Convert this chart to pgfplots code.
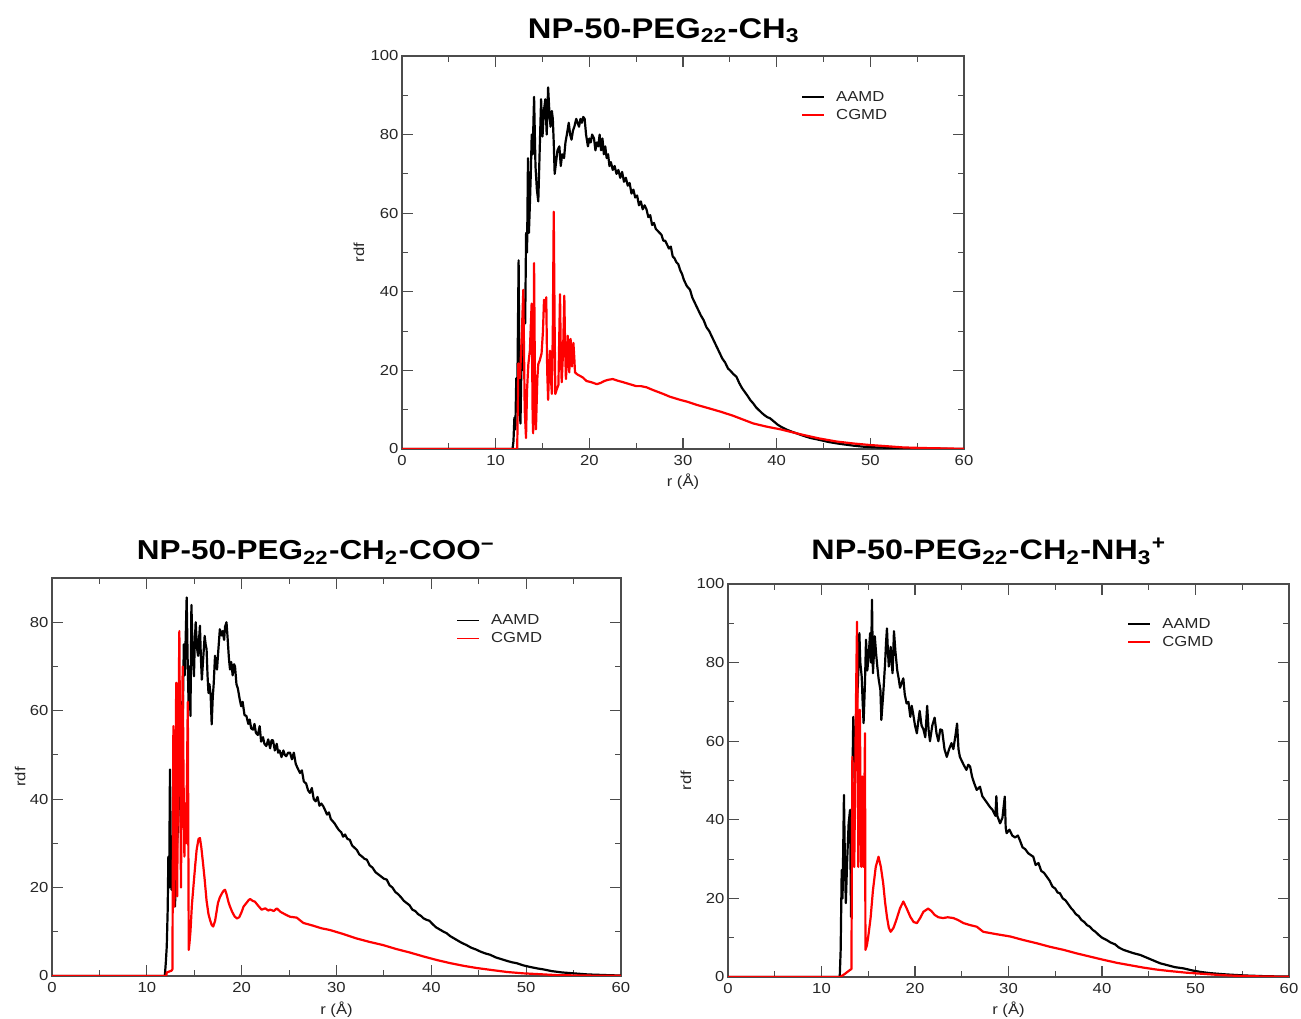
\documentclass[border=0pt]{standalone}
\usepackage{pgfplots}
\usepackage{pgfplotstable}
\pgfplotsset{compat=1.18}
\usepackage{fontspec}
\setmainfont{Liberation Sans}[FakeStretch=1.15]
\newfontfamily\titlefont{Liberation Sans}[FakeStretch=1.15]

\pgfplotstableread{
r g
0 0
11.8 0
11.9 2
12.0 8
12.1 5
12.2 18
12.3 12
12.45 48
12.55 10
12.65 6.5
12.75 22
12.85 28
12.95 20
13.05 38
13.15 32
13.25 55
13.35 50
13.45 74
13.55 55
13.65 62
13.75 70
13.85 80
13.95 75
14.1 89.6
14.25 72
14.4 66
14.55 63
14.7 76
14.85 89
15.0 79.5
15.15 86
15.3 89
15.45 80
15.6 92
15.75 85
15.86 82
16.0 86
16.1 84
16.2 78
16.3 70
16.45 73
16.6 76
16.8 77
16.95 72
17.1 75
17.3 74
17.45 78
17.6 80
17.8 83
17.95 80
18.1 78.7
18.25 81
18.4 82
18.6 84
18.75 83
18.9 82
19.05 84
19.2 83
19.35 84.5
19.5 84
19.65 80
19.85 77
20.0 79
20.15 78
20.3 80
20.5 79
20.65 76
20.8 78
20.95 77
21.1 80
21.25 76
21.4 79
21.55 75
21.7 77
21.85 74
22.0 75
22.15 72
22.3 73
22.5 71
22.7 72
22.9 70
23.1 71
23.3 69
23.5 70.5
23.7 68
23.9 69
24.1 67
24.3 67.7
24.5 65
24.7 66
24.9 64
25.1 64.5
25.3 62
25.5 63
25.7 61
25.9 62
26.1 61
26.3 59
26.5 59.5
26.7 57
26.9 57.5
27.1 56
27.3 55.5
27.5 55
27.7 54.5
27.9 53
28.1 53
28.3 52
28.5 51
28.7 51.5
28.9 49
29.1 48.5
29.3 47.5
29.5 47
29.7 45.5
29.9 44.5
30.1 43
30.4 41.5
30.75 40.5
31.0 38.5
31.3 37
31.6 35.5
31.9 34
32.2 32.8
32.5 31
32.8 30
33.1 28.5
33.4 27
33.6 26
33.9 24.5
34.2 23
34.5 22
34.8 20.5
35.1 19.8
35.4 19
35.7 18.4
36.0 16.8
36.3 15.5
36.6 14.5
36.9 13.5
37.2 12.4
37.5 11.6
37.8 10.6
38.1 9.9
38.4 9.2
38.7 8.6
39.0 8.1
39.3 7.8
39.7 7.0
40.1 6.2
40.5 5.6
41.0 5.0
41.5 4.5
42.1 4.0
42.8 3.4
43.6 2.8
44.6 2.3
45.5 1.8
46.5 1.4
47.4 1.1
48.2 0.85
49.2 0.6
50.2 0.45
51.8 0.3
53.5 0.2
55.4 0.1
57.5 0.05
60 0
}\topA

\pgfplotstableread{
r g
0 0
12.3 0
12.42 21.8
12.6 18
12.8 30
12.95 40.5
13.1 10
13.24 2.8
13.35 15
13.49 21.6
13.65 25
13.84 37
13.95 8
14.0 4
14.1 47.3
14.2 15
14.3 5
14.45 18
14.55 21.6
14.7 22.5
14.9 24.3
15.05 30
15.16 38
15.3 35
15.4 38.6
15.5 20
15.6 12.5
15.7 20
15.8 25
15.9 18
16.0 14
16.1 30
16.2 60.4
16.3 30
16.37 14
16.5 15
16.7 16.3
16.8 30
16.87 39.4
16.95 25
17.05 17
17.2 25
17.33 39
17.42 25
17.5 17.8
17.6 22
17.7 28.8
17.78 24
17.86 19.5
17.93 24
18.0 28
18.08 24
18.15 21
18.23 25
18.3 27
18.4 23
18.47 19.5
18.7 19
19.0 18.6
19.3 18.2
19.7 17.3
20.2 17.0
20.8 16.5
21.2 16.8
21.6 17.3
22.0 17.6
22.5 17.8
23.0 17.4
23.6 17.0
24.3 16.5
25.0 16.0
25.5 16.0
26.1 15.7
26.8 15.0
27.9 14.0
28.6 13.3
29.7 12.5
30.5 12.0
31.5 11.2
32.7 10.4
34.0 9.5
35.3 8.5
36.4 7.5
37.5 6.5
38.9 5.7
40.4 5.0
41.6 4.3
42.8 3.6
44.5 2.7
46.4 1.9
48.2 1.4
50.0 1.0
51.8 0.7
53.5 0.4
55.5 0.25
58.9 0.1
60 0.05
}\topC

\pgfplotstableread{
r g
0 0
11.9 0
12.0 3
12.1 6.6
12.2 15
12.27 27
12.35 20
12.44 46.7
12.52 30
12.6 19.5
12.7 24
12.8 21.8
12.9 18
12.97 15.7
13.05 22
13.15 28
13.3 34.6
13.4 40
13.5 50
13.6 45
13.7 62
13.8 60
13.9 75
14.0 68
14.2 85.6
14.3 72
14.4 61.8
14.5 70
14.6 58.8
14.7 83.9
14.85 72
14.97 67.8
15.05 75
15.15 80
15.3 74
15.4 72.4
15.5 76
15.6 79.2
15.7 72
15.8 67
15.95 72
16.1 76.9
16.2 75
16.3 73.9
16.4 68
16.5 64
16.6 66
16.73 63.5
16.84 56.9
16.95 63
17.05 66
17.19 72.4
17.3 70
17.4 69.3
17.55 74
17.7 78.4
17.85 77
18.0 78
18.15 76
18.25 79
18.4 80
18.5 77
18.65 72
18.77 69.3
18.9 71
19.05 68
19.2 70.5
19.3 70
19.45 66
19.6 65
19.8 62.5
19.95 61
20.1 62
20.3 59
20.5 58.8
20.7 57
20.85 58
21.0 56
21.2 55.7
21.35 57
21.5 55
21.7 54.5
21.9 56.5
22.05 53
22.25 54
22.4 52.5
22.6 52
22.8 53.5
23.0 51.5
23.15 53.3
23.3 53.3
23.5 51
23.7 52.5
23.85 50.5
24.0 51
24.2 49.5
24.4 51
24.55 50
24.7 49.7
24.9 50.5
25.1 50.5
25.3 49
25.5 50.5
25.7 48
25.9 47
26.15 45.9
26.35 46.5
26.55 44
26.8 43.5
27.0 42
27.2 41.4
27.4 42.5
27.6 40
27.8 39.5
28.0 40.5
28.2 38.5
28.4 39
28.6 38.4
28.8 37.5
29.0 36.5
29.2 37
29.4 35.5
29.6 35
29.8 34.5
30.0 33.8
30.25 33
30.5 32.5
30.7 31.5
30.9 32
31.15 31
31.4 30.8
31.65 29.5
31.9 29
32.15 28.5
32.4 27.5
32.7 27
32.95 26.5
33.2 26.3
33.5 25
33.8 24.5
34.1 23.5
34.4 23
34.7 22.5
35.0 22
35.3 21.8
35.6 20.5
35.9 20
36.2 19
36.5 18.5
36.8 17.8
37.1 17
37.4 16.5
37.7 16
38.0 15
38.3 14.7
38.6 14
38.9 13.6
39.2 13
39.5 12.7
39.8 12.5
40.1 11.8
40.5 11
40.9 10.5
41.3 10
41.6 9.7
42.0 9
42.4 8.5
42.8 8
43.2 7.5
43.7 7.0
44.2 6.4
44.7 6
45.2 5.5
45.7 5.1
46.2 4.8
46.8 4.2
47.4 3.8
48.0 3.4
48.5 3.1
49.0 2.9
49.7 2.4
50.5 2
51.2 1.7
51.8 1.5
52.7 1.1
53.8 0.8
55.0 0.6
56.5 0.35
58.5 0.2
60 0.1
}\blA

\pgfplotstableread{
r g
0 0
12.05 0
12.1 0.8
12.6 1.2
12.7 1.5
12.75 30
12.8 56.5
12.85 30
12.9 15.7
13.0 40
13.1 66.3
13.15 40
13.2 18
13.3 50
13.43 78
13.52 45
13.6 20
13.7 50
13.78 70
13.87 45
13.96 27
14.05 39
14.15 30
14.32 62
14.42 5.9
14.5 7.5
14.6 10
14.75 16
14.9 19.9
15.1 25
15.25 28.5
15.45 31
15.6 31.2
15.75 29
15.95 25
16.1 21.8
16.3 17
16.5 14
16.66 12.7
16.85 11.5
17.0 11.2
17.2 12.5
17.35 14.5
17.5 16.5
17.7 17.8
17.95 18.8
18.1 19.3
18.25 19.5
18.4 18.5
18.6 16.8
18.77 15.7
19.0 14.5
19.25 13.5
19.5 13
19.75 13.3
20.0 14.5
20.2 15.7
20.5 16.5
20.75 17.2
20.9 17.4
21.15 17.0
21.4 16.8
21.7 16.0
22.1 15
22.5 15.3
22.8 14.8
23.0 15
23.4 14.7
23.7 15.3
24.1 14.5
24.7 13.8
25.1 13.4
25.8 13.2
26.5 12
27.5 11.4
28.4 10.8
29.3 10.4
30.7 9.5
32.1 8.5
33.5 7.7
34.9 7.0
36.3 6.1
37.75 5.3
39.2 4.4
40.6 3.6
42.0 2.9
43.4 2.3
44.8 1.8
46.2 1.4
48.0 0.9
49.7 0.6
51.5 0.4
53.2 0.2
56.0 0.1
60 0.05
}\blC

\pgfplotstableread{
r g
0 0
11.95 0
12.05 6.9
12.16 27.2
12.25 20
12.4 46.3
12.5 30
12.6 18.8
12.75 30
12.9 39
13.05 42.5
13.16 15.3
13.3 50
13.4 66.2
13.5 60
13.6 54.4
13.76 68.8
13.9 75
14.05 87.5
14.15 80
14.3 76.4
14.4 70
14.5 64.6
14.65 75
14.76 85.8
14.9 78
15.05 82
15.2 87.5
15.3 80
15.4 96
15.5 77.3
15.6 82
15.7 86.7
15.85 82
15.97 79
16.1 76
16.3 73
16.4 65.4
16.6 72
16.8 79.8
16.9 85
17.0 88.7
17.1 83
17.2 79
17.3 82
17.4 84
17.5 80
17.6 77.3
17.75 88
17.9 83
18.1 78
18.25 76
18.4 73.6
18.6 75
18.75 76
18.9 72
19.1 69.6
19.3 70
19.5 66.2
19.65 69
19.8 67
20.0 64
20.2 62
20.35 65
20.5 67.7
20.7 64
20.9 63
21.1 61
21.3 69
21.45 63
21.6 60
21.85 64
22.1 66
22.3 62
22.5 60
22.7 63
22.9 62.8
23.15 58
23.4 56
23.65 58
23.9 59.5
24.1 58
24.3 61
24.5 64.5
24.65 58
24.8 56
25.0 55
25.2 54
25.5 52.7
25.7 54
25.9 53.5
26.1 51
26.3 49.5
26.6 47.6
26.95 48.4
27.2 46
27.5 45
27.8 44
28.0 43.3
28.3 42.5
28.6 41
28.7 46
28.8 41
29.1 39.1
29.35 40.5
29.6 45.9
29.7 38
29.8 36.6
30.1 37.5
30.4 36
30.7 35.5
31.0 36
31.2 34.9
31.5 33
31.8 32.5
32.1 31.5
32.4 31
32.65 30.6
32.9 28.5
33.2 29
33.5 27
33.8 26.5
34.1 25.5
34.4 24.5
34.7 23
35.0 22.5
35.25 21.5
35.5 21.3
35.8 20
36.1 19.5
36.4 18.5
36.7 17.5
36.9 17
37.2 16
37.5 15.5
37.8 14.5
38.1 14
38.4 13.2
38.7 12.8
39.0 12
39.3 11.5
39.6 10.8
40.0 10
40.5 9.4
40.9 8.8
41.4 8.3
41.8 7.5
42.3 6.9
42.8 6.5
43.3 6.1
44.1 5.6
44.8 4.9
45.5 4.2
46.2 3.5
47.0 3.0
47.8 2.5
48.7 2.2
49.6 1.7
50.5 1.3
51.5 1.0
53.0 0.7
55.1 0.4
57.5 0.2
60 0.1
}\brA

\pgfplotstableread{
r g
0 0
12.0 0
12.5 0.8
13.05 1.8
13.2 2
13.3 56
13.4 35
13.5 28
13.58 45
13.66 64.5
13.74 80
13.8 90.4
13.87 60
13.94 28
14.02 45
14.1 68
14.18 45
14.26 28
14.31 40
14.36 51
14.43 40
14.5 28
14.58 45
14.65 62
14.7 6.9
14.85 8
15.0 10.3
15.25 15
15.5 22
15.8 28
16.1 30.6
16.35 28
16.6 23.8
16.8 19
17.0 15.3
17.2 12.5
17.4 11.5
17.7 12.5
18.0 14.5
18.4 17.5
18.75 19.2
19.1 17.5
19.5 15.3
19.85 14
20.2 13.7
20.55 15
20.9 16.6
21.4 17.4
21.75 16.8
22.1 15.8
22.5 15.2
23.0 15
23.5 15.2
24.1 15
24.6 14.5
25.2 13.7
25.9 13.2
26.6 12.8
27.3 11.5
28.7 10.9
30.2 10.3
31.6 9.4
33.0 8.6
34.4 7.7
35.9 6.9
37.3 6.0
38.7 5.2
40.1 4.4
41.6 3.6
43.0 3.0
44.4 2.4
45.8 1.9
47.3 1.5
49.0 1.1
50.8 0.8
52.6 0.5
54.4 0.3
57.0 0.15
60 0.05
}\brC

\pgfplotsset{
  rdfaxis/.style={
    scale only axis,
    anchor=south west,
    xmin=0, xmax=60, ymin=0,
    xtick={0,10,...,60},
    minor x tick num=1,
    minor y tick num=1,
    tick align=inside,
    major tick length=11pt,
    minor tick length=6pt,
    axis line style={black!70, line width=1.1pt},
    every tick/.style={black!70, line width=1.1pt},
    every minor tick/.style={black!70, line width=1.1pt},
    /pgf/number format/assume math mode=true,
    tick label style={font=\fontsize{14.5}{16}\selectfont, text=black!85},
    xticklabel style={yshift=-3pt},
    label style={font=\fontsize{14.5}{16}\selectfont, text=black!85},
    xlabel={r (Å)},
    ylabel={rdf},
    legend cell align=left,
    legend image code/.code={\draw[#1, line width=1.8pt] (0pt,0pt) -- (22pt,0pt); \path (31pt,0pt);},
    legend style={draw=none, fill=none, anchor=north west, inner sep=0pt,
      font=\fontsize{14.5}{17}\selectfont, row sep=2.5pt,
      nodes={inner sep=2pt, text=black!85}},
    every axis plot/.append style={line width=2.2pt, line join=round},
  }
}

\begin{document}
\begin{tikzpicture}[x=1pt,y=1pt]
\useasboundingbox (0,0) rectangle (1301,1019);

% top
\begin{axis}[rdfaxis, at={(402pt,570pt)}, width=562pt, height=393pt,
  ymax=100, ytick={0,20,...,100},
  xlabel style={at={(axis description cs:0.5,-0.084)}, anchor=center},
  ylabel style={at={(axis description cs:-0.0765,0.5)}, anchor=center},
  legend style={at={(axis cs:42.6,91.6)}}]
\addplot[black] table[x=r,y=g] {\topA};
\addlegendentry{AAMD}
\addplot[red] table[x=r,y=g] {\topC};
\addlegendentry{CGMD}
\end{axis}

% bottom left
\begin{axis}[rdfaxis, at={(52pt,43pt)}, width=569pt, height=398pt,
  ymax=90, ytick={0,20,...,80},
  xlabel style={at={(axis description cs:0.5,-0.085)}, anchor=center},
  ylabel style={at={(axis description cs:-0.056,0.5)}, anchor=center},
  legend style={at={(axis cs:42.6,82.2)}}]
\addplot[black] table[x=r,y=g] {\blA};
\addlegendentry{AAMD}
\addplot[red] table[x=r,y=g] {\blC};
\addlegendentry{CGMD}
\end{axis}

% bottom right
\begin{axis}[rdfaxis, at={(728pt,42pt)}, width=561pt, height=393pt,
  ymax=100, ytick={0,20,...,100},
  xlabel style={at={(axis description cs:0.5,-0.084)}, anchor=center},
  ylabel style={at={(axis description cs:-0.0749,0.5)}, anchor=center},
  legend style={at={(axis cs:42.7,91.8)}}]
\addplot[black] table[x=r,y=g] {\brA};
\addlegendentry{AAMD}
\addplot[red] table[x=r,y=g] {\brC};
\addlegendentry{CGMD}
\end{axis}

% titles
\node[anchor=base, inner sep=0pt] at (664,1019-38.5) {\resizebox{272pt}{!}{\titlefont\bfseries NP-50-PEG\textsubscript{22}-CH\textsubscript{3}}};
\node[anchor=base, inner sep=0pt] at (316,1019-560) {\resizebox{358pt}{!}{\titlefont\bfseries NP-50-PEG\textsubscript{22}-CH\textsubscript{2}-COO\textsuperscript{−}}};
\node[anchor=base, inner sep=0pt] at (989,1019-560) {\resizebox{355pt}{!}{\titlefont\bfseries NP-50-PEG\textsubscript{22}-CH\textsubscript{2}-NH\textsubscript{3}\textsuperscript{+}}};
\end{tikzpicture}
\end{document}
